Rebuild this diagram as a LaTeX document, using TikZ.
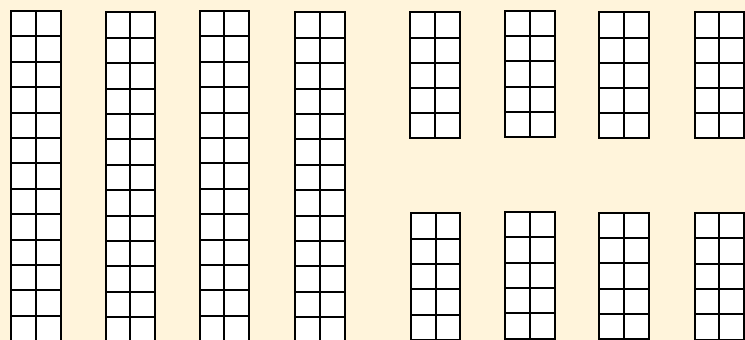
\documentclass[tikz,border=0pt]{standalone}
\usepackage{tikz}
\definecolor{bgbeige}{RGB}{255,244,219}
\tikzset{gl/.style={draw=black, line width=2pt, line cap=rect}}
\newcommand\gcol[5]{% x0 y0 width cellheight rows
  \fill[white] (#1,#2) rectangle ({#1+#3},{#2+#4*#5});
  \foreach \k in {0,...,#5} \draw[gl] (#1,{#2+\k*#4}) -- ({#1+#3},{#2+\k*#4});
  \draw[gl] (#1,#2) -- (#1,{#2+#4*#5});
  \draw[gl] ({#1+#3/2},#2) -- ({#1+#3/2},{#2+#4*#5});
  \draw[gl] ({#1+#3},#2) -- ({#1+#3},{#2+#4*#5});
}
\begin{document}
\begin{tikzpicture}[x=1pt,y=-1pt]
  \fill[bgbeige] (0,0) rectangle (745,340);
  \useasboundingbox (0,0) rectangle (745,340);
  \clip (0,0) rectangle (745,340);
  % tall columns
  \gcol{11}{11}{49.5}{25.4}{13}
  \gcol{105.5}{12.3}{49.5}{25.4}{13}
  \gcol{199.5}{11}{49.5}{25.4}{13}
  \gcol{295.3}{12.3}{49.5}{25.4}{13}
  % small grids, top row
  \gcol{410.3}{12.3}{49.5}{25.2}{5}
  \gcol{505}{11}{49.5}{25.2}{5}
  \gcol{599}{12.3}{49.5}{25.2}{5}
  \gcol{694.5}{12.3}{49.5}{25.2}{5}
  % small grids, bottom row
  \gcol{410.8}{213.3}{49.5}{25.3}{5}
  \gcol{505}{212}{49.5}{25.3}{5}
  \gcol{599}{212.7}{49.5}{25.3}{5}
  \gcol{694.5}{213}{49.5}{25.3}{5}
\end{tikzpicture}
\end{document}
